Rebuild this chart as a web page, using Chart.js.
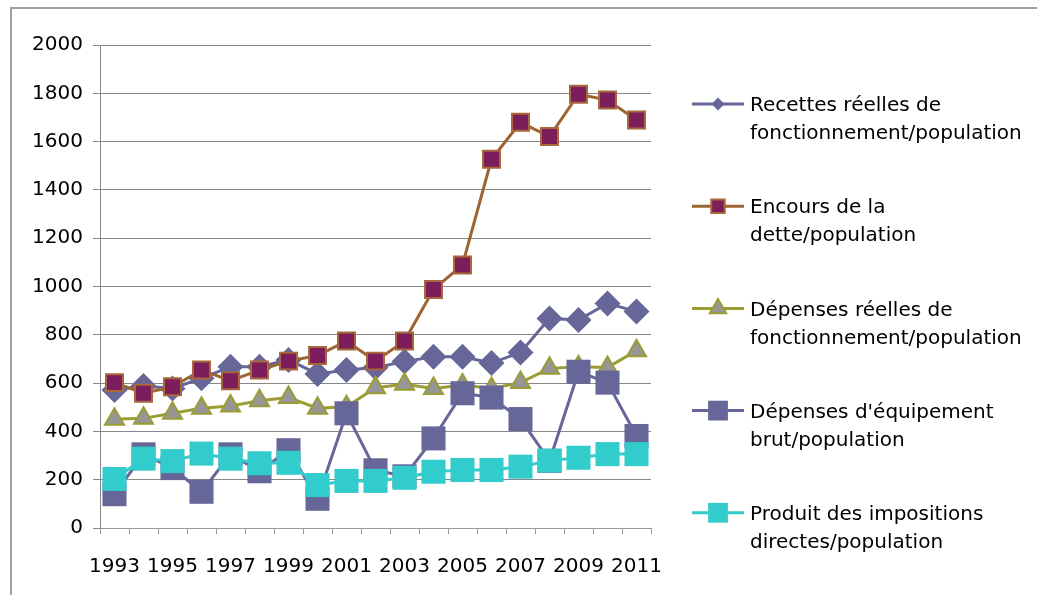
<!DOCTYPE html>
<html>
<head>
<meta charset="utf-8">
<script src="https://cdn.jsdelivr.net/npm/chart.js@4.4.1/dist/chart.umd.min.js"></script>
<style>
  body { margin: 0; background: #fff; }
  #frame {
    position: absolute; left: 10px; top: 7px; width: 1100px; height: 700px;
    border-left: 2px solid #a0a0a0; border-top: 2px solid #a0a0a0;
  }
  #wrap { position: absolute; left: 0; top: 0; width: 1037px; height: 595px; }
</style>
</head>
<body>
<div id="frame"></div>
<div id="wrap"><canvas id="chartCanvas" width="1037" height="595"></canvas></div>
<script>
// data
const years = ["1993", "1994", "1995", "1996", "1997", "1998", "1999", "2000", "2001", "2002",
  "2003", "2004", "2005", "2006", "2007", "2008", "2009", "2010", "2011"];

const recettes = [571, 588, 578, 620, 668, 668, 696, 638, 654, 665, 689, 709, 709, 683, 727, 868, 861, 930, 896];
const encours = [602, 558, 585, 654, 610, 654, 691, 714, 774, 691, 774, 988, 1089, 1527, 1680, 1621, 1796, 1772, 1689];
const depReelles = [450, 454, 475, 496, 505, 527, 540, 496, 502, 581, 595, 578, 592, 578, 602, 661, 668, 665, 734];
const depEquipement = [140, 305, 248, 150, 305, 235, 322, 121, 475, 239, 214, 371, 558, 540, 451, 278, 647, 602, 381];
const impositions = [203, 287, 277, 308, 287, 268, 270, 178, 195, 195, 208, 233, 240, 240, 254, 279, 291, 306, 306];

const legendLabels = [
  ["Recettes réelles de", "fonctionnement/population"],
  ["Encours de la", "dette/population"],
  ["Dépenses réelles de", "fonctionnement/population"],
  ["Dépenses d'équipement", "brut/population"],
  ["Produit des impositions", "directes/population"],
];

const FONT = '"DejaVu Sans", Verdana, sans-serif';

// legend marker sizes (radius, like chart.js points)
const legendRadius = [6.5, 9.5, 9.5, 14, 14];

function drawMarker(ctx, style, x, y, r, fill, stroke, bw) {
  ctx.beginPath();
  if (style === "rectRot") {
    ctx.moveTo(x, y - r);
    ctx.lineTo(x + r, y);
    ctx.lineTo(x, y + r);
    ctx.lineTo(x - r, y);
    ctx.closePath();
  } else if (style === "triangle") {
    for (let k = 0; k < 3; k++) {
      const a = k * 2 * Math.PI / 3;
      const px = x + Math.sin(a) * r;
      const py = y - Math.cos(a) * r;
      if (k === 0) ctx.moveTo(px, py); else ctx.lineTo(px, py);
    }
    ctx.closePath();
  } else {
    const s = Math.SQRT1_2 * r;
    ctx.rect(x - s, y - s, 2 * s, 2 * s);
  }
  ctx.fillStyle = fill;
  ctx.fill();
  if (bw > 0) {
    ctx.lineWidth = bw;
    ctx.strokeStyle = stroke;
    ctx.stroke();
  }
}

const sideLegend = {
  id: "sideLegend",
  afterDraw(chart) {
    const ctx = chart.ctx;
    chart.data.datasets.forEach((ds, i) => {
      const y = 104 + i * 102.2;
      ctx.save();
      ctx.strokeStyle = ds.borderColor;
      ctx.lineWidth = 3;
      ctx.beginPath();
      ctx.moveTo(692, y);
      ctx.lineTo(744, y);
      ctx.stroke();
      drawMarker(ctx, ds.pointStyle, 718, y, legendRadius[i],
        ds.pointBackgroundColor, ds.pointBorderColor, ds.pointBorderWidth);
      ctx.fillStyle = "#000";
      ctx.font = "20px " + FONT;
      ctx.textBaseline = "middle";
      ctx.textAlign = "left";
      legendLabels[i].forEach((t, j) => ctx.fillText(t, 750, y + 2 + j * 28));
      ctx.restore();
    });
  },
};

const ctx = document.getElementById("chartCanvas").getContext("2d");

new Chart(ctx, {
  type: "line",
  data: {
    labels: years,
    datasets: [
      {
        label: legendLabels[0].join(" "),
        data: recettes,
        borderColor: "#666699",
        borderWidth: 3,
        pointStyle: "rectRot",
        pointRadius: 13,
        pointBackgroundColor: "#666699",
        pointBorderColor: "#666699",
        pointBorderWidth: 0,
        tension: 0,
        order: 5,
      },
      {
        label: legendLabels[1].join(" "),
        data: encours,
        borderColor: "#9c6433",
        borderWidth: 3,
        pointStyle: "rect",
        pointRadius: 12,
        pointBackgroundColor: "#7d1e5c",
        pointBorderColor: "#a8683a",
        pointBorderWidth: 2,
        tension: 0,
        order: 4,
      },
      {
        label: legendLabels[2].join(" "),
        data: depReelles,
        borderColor: "#9c9c34",
        borderWidth: 3,
        pointStyle: "triangle",
        pointRadius: 11,
        pointBackgroundColor: "#969696",
        pointBorderColor: "#9c9c34",
        pointBorderWidth: 2,
        tension: 0,
        order: 3,
      },
      {
        label: legendLabels[3].join(" "),
        data: depEquipement,
        borderColor: "#666699",
        borderWidth: 3,
        pointStyle: "rect",
        pointRadius: 17,
        pointBackgroundColor: "#666699",
        pointBorderColor: "#666699",
        pointBorderWidth: 0,
        tension: 0,
        order: 2,
      },
      {
        label: legendLabels[4].join(" "),
        data: impositions,
        borderColor: "#33cccc",
        borderWidth: 3,
        pointStyle: "rect",
        pointRadius: 17,
        pointBackgroundColor: "#33cccc",
        pointBorderColor: "#33cccc",
        pointBorderWidth: 0,
        tension: 0,
        order: 1,
      },
    ],
  },
  options: {
    responsive: false,
    animation: false,
    events: [],
    layout: { padding: { left: 0, top: 45, right: 386, bottom: 0 } },
    plugins: {
      legend: { display: false },
      tooltip: { enabled: false },
    },
    scales: {
      x: {
        offset: true,
        grid: {
          offset: true,
          drawOnChartArea: false,
          drawTicks: true,
          tickLength: 6,
          color: "#999",
        },
        border: { color: "#999", width: 1 },
        ticks: {
          autoSkip: false,
          maxRotation: 0,
          padding: 21,
          color: "#000",
          font: { family: FONT, size: 20 },
          callback: function (value, index) {
            return index % 2 === 0 ? years[index] : "";
          },
        },
        afterFit: function (scale) {
          scale.height = 67;
        },
      },
      y: {
        min: 0,
        max: 2000,
        ticks: {
          stepSize: 200,
          padding: 10,
          color: "#000",
          font: { family: FONT, size: 20 },
          callback: function (value) {
            return String(value);
          },
        },
        grid: { color: "#888", lineWidth: 1, tickLength: 7 },
        border: { color: "#888", width: 1 },
        afterFit: function (scale) {
          scale.width = 100;
        },
      },
    },
  },
  plugins: [sideLegend],
});
</script>
</body>
</html>
